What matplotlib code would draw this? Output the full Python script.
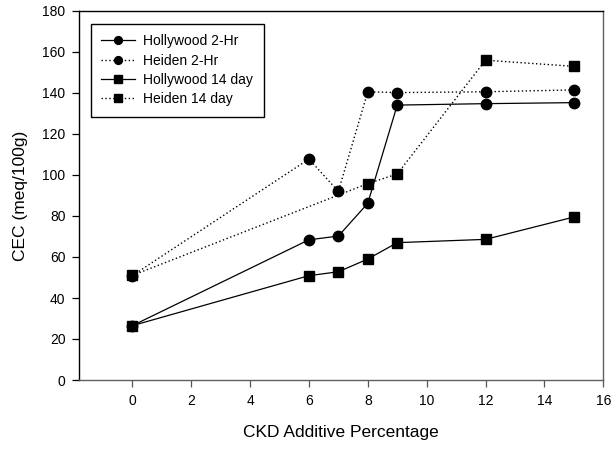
import numpy as np
import matplotlib.pyplot as plt

plt.rcParams['font.family'] = ['Liberation Sans', 'DejaVu Sans']

# data
x_2hr = [0, 6, 7, 8, 9, 12, 15]
hollywood_2hr = [26.5, 68.4, 70.2, 86.2, 134.1, 134.8, 135.3]
heiden_2hr = [50.9, 107.8, 92.0, 140.6, 140.2, 140.6, 141.5]
x_holly14 = [0, 6, 7, 8, 9, 12, 15]
hollywood_14 = [26.5, 50.9, 52.8, 59.0, 67.0, 68.6, 79.5]
x_heiden14 = [0, 8, 9, 12, 15]
heiden_14 = [51.0, 95.8, 100.5, 156.0, 153.0]
labels = ["Hollywood 2-Hr", "Heiden 2-Hr", "Hollywood 14 day", "Heiden 14 day"]

fig = plt.figure(figsize=(6.13, 4.49), dpi=100)
ax = fig.add_axes([79.3/613, 1 - 380/449, 524/613, 369/449])

dots = (0, (1, 1.8))
ax.plot(x_2hr, hollywood_2hr, color='black', lw=0.9, ls='-', marker='o', ms=7.5)
ax.plot(x_2hr, heiden_2hr, color='black', lw=1.0, ls=dots, marker='o', ms=7.5)
ax.plot(x_holly14, hollywood_14, color='black', lw=0.9, ls='-', marker='s', ms=7.5)
ax.plot(x_heiden14, heiden_14, color='black', lw=1.0, ls=dots, marker='s', ms=7.5)

ax.set_xlim(-1.8, 16)
ax.set_ylim(0, 180)
ax.set_xticks(np.arange(0, 17, 2))
ax.set_yticks(np.arange(0, 181, 20))
ax.tick_params(direction='out', length=5, labelsize=10, width=0.9, pad=5)
ax.tick_params(axis='x', colors='#555555', labelcolor='black')
for s in ax.spines.values():
    s.set_linewidth(1.0)
ax.spines['bottom'].set_color('#606060')
ax.spines['right'].set_color('#606060')
ax.set_xlabel("CKD Additive Percentage", fontsize=12.5, labelpad=12)
ax.set_ylabel("CEC (meq/100g)", fontsize=12.5, labelpad=10)

leg = ax.legend(labels, loc='upper left', bbox_to_anchor=(0.022, 0.965), borderaxespad=0,
                fontsize=10, fancybox=False, framealpha=1, edgecolor='black',
                handlelength=2.45, handletextpad=0.58, borderpad=0.75,
                labelspacing=0.38, markerscale=0.75)
leg.get_frame().set_linewidth(1.0)

plt.savefig("out.png")
